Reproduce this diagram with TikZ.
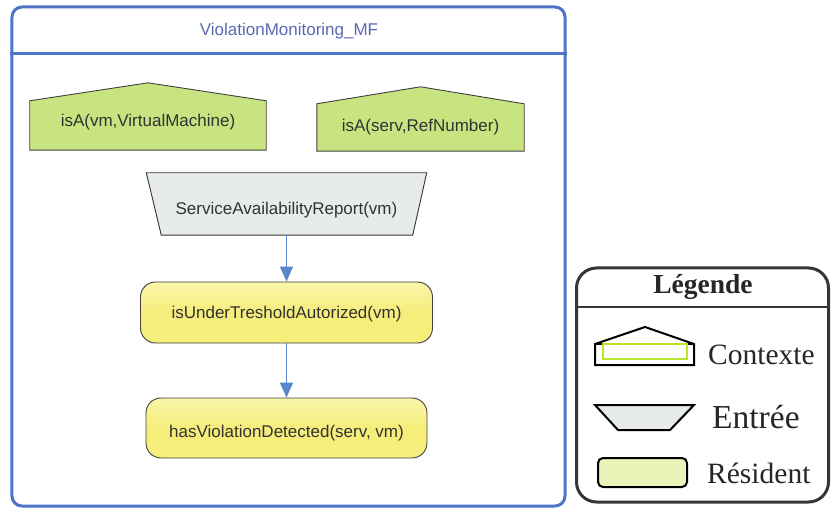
\documentclass[tikz,border=0pt]{standalone}
\usepackage{fontspec}
\setmainfont{Liberation Serif}
\setsansfont{Liberation Sans}
\usetikzlibrary{arrows.meta,calc}
\pgfdeclarelayer{background}
\pgfsetlayers{background,main}

\definecolor{frameblue}{RGB}{78,116,200}
\definecolor{titleblue}{RGB}{90,104,180}
\definecolor{ctxgreen}{RGB}{200,228,128}
\definecolor{inputgrey}{RGB}{231,235,235}
\definecolor{resyellow}{RGB}{245,238,122}
\definecolor{resyellowlight}{RGB}{250,246,170}
\definecolor{arrowblue}{RGB}{90,134,204}
\definecolor{legendline}{RGB}{58,52,52}
\definecolor{legendgreen}{RGB}{234,243,184}
\definecolor{legendlime}{RGB}{185,230,40}
\definecolor{inktext}{RGB}{50,50,50}

% move a label up (positive) or down (negative) without changing the node size
\newcommand{\nudge}[2]{\raisebox{#1}[\height][\depth]{#2}}

\tikzset{
  diagtext/.style={font=\sffamily\fontsize{17bp}{20bp}\selectfont, text=inktext, inner sep=0pt},
  ctxbody/.style={diagtext},
  ctxshape/.style={fill=ctxgreen, draw=black!75, line width=0.9bp},
  inputbody/.style={diagtext},
  inputshape/.style={fill=inputgrey, draw=black!80, line width=0.9bp},
  resident/.style={diagtext, draw=black!75, line width=0.9bp,
    top color=resyellowlight, bottom color=resyellow, middle color=resyellow,
    rounded corners=15bp},
  flow/.style={draw=arrowblue, line width=1.6bp, -{Triangle[width=13bp,length=15bp]}},
  legendtext/.style={font=\fontsize{29.5bp}{32bp}\selectfont, text=black!85, anchor=west, inner sep=0pt},
  legendicon/.style={draw=black, line width=2bp, line join=miter},
}

\begin{document}
\begin{tikzpicture}[x=1bp,y=-1bp]
\useasboundingbox (0,0) rectangle (831,512);

% ---------- fragment frame ----------
\node[draw=frameblue, line width=3bp, rounded corners=10bp,
      minimum width=553bp, minimum height=499bp, inner sep=0pt] (mf) at (288.5,256.5) {};
\draw[frameblue, line width=3bp] (mf.west |- 0,54) -- (mf.east |- 0,54);
\node[font=\sffamily\fontsize{17bp}{20bp}\selectfont, text=titleblue] (mftitle) at (289,31)
  {ViolationMonitoring\_MF};

% ---------- context nodes ----------
\node[ctxbody, minimum width=236bp, minimum height=49bp] (ctxvm) at (148,125.5)
  {\nudge{3.5bp}{isA(vm,VirtualMachine)}};
\node[ctxbody, minimum width=207bp, minimum height=47bp] (ctxserv) at (420.5,127.5)
  {isA(serv,RefNumber)};

% ---------- input node ----------
\node[inputbody, minimum width=280bp, minimum height=62bp] (sar) at (286.5,204)
  {\nudge{-6bp}{ServiceAvailabilityReport(vm)}};

% ---------- resident nodes ----------
\node[resident, minimum width=292bp, minimum height=61bp] (isu) at (286.5,312.5)
  {\nudge{-2bp}{isUnderTresholdAutorized(vm)}};
\node[resident, minimum width=281bp, minimum height=60bp] (hasv) at (286.5,428)
  {\nudge{-5bp}{hasViolationDetected(serv, vm)}};

\begin{pgfonlayer}{background}
  \fill[white] (0,0) rectangle (831,512);
  \path[ctxshape] (ctxvm.south west) -- (ctxvm.north west) -- ($(ctxvm.north)+(0,-18)$)
    -- (ctxvm.north east) -- (ctxvm.south east) -- cycle;
  \path[ctxshape] (ctxserv.south west) -- (ctxserv.north west) -- ($(ctxserv.north)+(0,-17)$)
    -- (ctxserv.north east) -- (ctxserv.south east) -- cycle;
  \path[inputshape] (sar.north west) -- (sar.north east) -- ($(sar.south east)+(-14,0)$)
    -- ($(sar.south west)+(15,0)$) -- cycle;
\end{pgfonlayer}

% ---------- influences ----------
\draw[flow] (sar.south) -- (isu.north);
\draw[flow] (isu.south) -- (hasv.north);

% ---------- legend ----------
\node[draw=legendline, line width=3bp, rounded corners=20bp,
      minimum width=252bp, minimum height=234bp, inner sep=0pt] (legend) at (702.5,385) {};
\draw[legendline, line width=2.5bp] (legend.west |- 0,307) -- (legend.east |- 0,307);
\node[font=\bfseries\fontsize{27.5bp}{30bp}\selectfont, text=black!85] (legtitle) at (703,287) {Légende};

% context icon
\draw[legendicon] (595,365) -- (595,344) -- (645,327) -- (694,344) -- (694,365) -- cycle;
\draw[legendicon] (595,344) -- (694,344);
\draw[legendlime, line width=1.5bp] (603,344) rectangle (687,359);
% input icon
\draw[legendicon, fill=inputgrey] (595,405) -- (694,405) -- (670,430) -- (618,430) -- cycle;
% resident icon
\draw[legendicon, fill=legendgreen, rounded corners=5bp] (598,458) rectangle (687,487);

\node[legendtext] (lctx) at (708,355) {Contexte};
\node[legendtext, font=\fontsize{33.5bp}{36bp}\selectfont] (lin) at (712,417) {Entrée};
\node[legendtext] (lres) at (707,473) {Résident};
\end{tikzpicture}
\end{document}
